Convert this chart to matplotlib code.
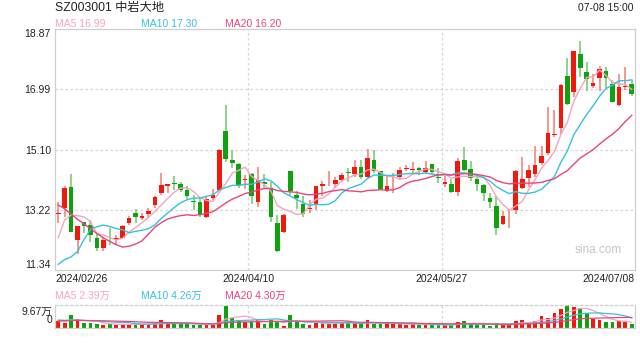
import numpy as np
import matplotlib.pyplot as plt

plt.rcParams['font.family'] = ['Liberation Sans', 'Noto Sans CJK SC', 'DejaVu Sans']

# daily candles 2024/02/26 -> 2024/07/08 (90 trading days)
opens = [13.10, 13.27, 13.93, 12.28, 12.83, 12.75, 12.33, 12.04, 12.35, 12.28,
         12.35, 12.82, 13.11, 12.96, 13.08, 13.37, 13.74, 13.97, 14.04, 14.02,
         13.84, 13.51, 13.45, 13.01, 13.60, 13.84, 15.67, 14.78, 14.65, 14.16,
         14.33, 13.48, 14.10, 13.90, 12.80, 12.52, 14.42, 13.69, 13.41, 13.24,
         13.40, 13.98, 14.17, 14.02, 14.16, 14.40, 14.34, 14.57, 14.26, 14.78,
         14.42, 13.82, 14.17, 14.24, 14.50, 14.48, 14.52, 14.39, 14.65, 14.24,
         14.02, 14.03, 13.79, 14.78, 14.50, 14.19, 14.00, 13.60, 13.34, 12.77,
         13.08, 13.22, 13.90, 14.21, 14.34, 14.68, 14.99, 15.56, 15.77, 17.41,
         16.89, 18.09, 17.52, 17.10, 17.33, 17.56, 17.15, 16.48, 17.05, 17.15]
highs = [13.46, 13.95, 14.33, 12.72, 12.85, 12.91, 12.49, 12.33, 12.65, 12.44,
         12.75, 13.04, 13.25, 13.11, 13.27, 13.66, 14.36, 14.02, 14.28, 14.10,
         13.95, 13.69, 13.58, 13.64, 13.87, 15.13, 16.50, 15.09, 14.68, 14.31,
         14.36, 14.57, 14.33, 14.10, 13.06, 13.08, 14.42, 13.81, 13.66, 13.53,
         13.97, 14.12, 14.44, 14.26, 14.36, 14.52, 14.78, 14.78, 15.13, 15.09,
         14.44, 14.26, 14.36, 14.57, 14.62, 14.71, 14.57, 14.75, 14.65, 14.52,
         14.28, 14.19, 14.85, 15.17, 14.75, 14.26, 14.02, 13.74, 13.64, 13.17,
         13.25, 14.46, 14.86, 14.62, 15.22, 15.20, 16.43, 16.34, 17.15, 17.96,
         18.19, 18.48, 17.83, 17.46, 17.70, 17.67, 17.28, 17.46, 17.67, 17.28]
lows = [12.80, 13.01, 12.52, 11.83, 12.49, 12.21, 11.92, 11.92, 12.12, 12.12,
        12.33, 12.75, 12.80, 12.91, 12.96, 13.29, 13.69, 13.74, 13.84, 13.79,
        13.55, 13.20, 13.01, 12.98, 13.53, 13.82, 14.71, 14.54, 13.90, 13.87,
        13.41, 13.32, 13.90, 12.85, 11.90, 12.49, 13.69, 13.24, 13.01, 13.11,
        13.22, 13.64, 13.95, 13.90, 14.10, 14.08, 14.26, 14.19, 14.23, 14.36,
        13.84, 13.79, 13.74, 14.16, 14.42, 14.36, 14.31, 14.33, 14.33, 14.05,
        13.92, 13.74, 13.64, 14.42, 14.12, 13.82, 13.50, 13.29, 12.44, 12.75,
        12.65, 13.08, 13.87, 13.93, 14.26, 14.62, 14.94, 15.48, 15.58, 16.50,
        16.73, 17.36, 16.92, 17.02, 16.92, 17.02, 16.58, 16.45, 16.97, 16.79]
closes = [13.12, 13.90, 12.54, 12.70, 12.72, 12.42, 12.02, 12.28, 12.33, 12.33,
          12.70, 12.98, 13.01, 13.04, 13.19, 13.63, 14.00, 14.02, 14.02, 13.84,
          13.64, 13.46, 13.06, 13.56, 13.69, 15.09, 14.81, 14.68, 14.00, 14.19,
          13.64, 14.16, 14.04, 13.01, 11.92, 13.06, 13.81, 13.58, 13.09, 13.29,
          13.97, 14.02, 14.19, 14.16, 14.31, 14.38, 14.55, 14.26, 14.83, 14.42,
          13.87, 13.97, 14.19, 14.47, 14.52, 14.49, 14.45, 14.54, 14.39, 14.23,
          14.10, 13.79, 14.75, 14.47, 14.21, 14.02, 13.76, 13.48, 12.65, 13.03,
          13.10, 14.44, 14.19, 14.47, 14.62, 14.91, 15.61, 15.59, 17.13, 16.53,
          18.17, 17.65, 17.31, 17.18, 17.62, 17.33, 16.60, 17.05, 17.08, 16.84]
# volume in 万手
volumes = [2.90, 2.13, 5.48, 3.67, 1.93, 2.13, 1.74, 1.42, 1.74, 1.22,
           1.42, 1.74, 1.61, 1.61, 1.74, 1.93, 3.29, 2.13, 1.93, 1.48,
           1.61, 1.42, 1.42, 1.42, 1.42, 5.48, 9.15, 4.19, 3.35, 2.71,
           2.71, 3.16, 1.74, 3.35, 2.58, 0.64, 5.29, 2.90, 1.74, 1.42,
           1.93, 1.93, 2.26, 2.13, 2.26, 2.13, 1.93, 1.61, 3.42, 1.74,
           1.74, 1.93, 1.74, 1.61, 1.42, 1.61, 1.42, 1.42, 1.29, 1.10,
           1.10, 1.29, 2.71, 2.90, 1.48, 1.42, 1.42, 0.84, 2.13, 1.48,
           1.10, 3.00, 3.20, 2.70, 3.00, 5.00, 4.00, 6.20, 8.00, 9.67,
           8.85, 8.45, 6.15, 3.65, 3.55, 2.35, 2.65, 2.85, 2.50, 1.60]

# the 19 sessions before the window, only needed so the MA lines start at the left edge
prev_closes = [16.2, 16.0, 15.8, 15.6, 15.4, 15.1, 14.9, 14.6, 14.4, 14.2,
               12.4, 11.7, 11.0, 9.0, 9.3, 11.15, 11.74, 12.8, 12.95]
prev_volumes = [2.6, 2.4, 2.8, 3.0, 2.5, 2.2, 2.7, 3.1, 2.9, 2.6,
                3.4, 3.8, 4.2, 3.6, 3.2, 3.0, 3.4, 3.1, 2.9]

date_labels = ['2024/02/26', '2024/04/10', '2024/05/27', '2024/07/08']
price_ticks = [11.34, 13.22, 15.10, 16.99, 18.87]
vol_top = 9.67
price_leg = ['MA5 16.99', 'MA10 17.30', 'MA20 16.20']
vol_leg = ['MA5 2.39万', 'MA10 4.26万', 'MA20 4.30万']


def moving_average(values, n, prior):
    full = np.concatenate([prior, values])
    ma = np.convolve(full, np.ones(n) / n, mode='valid')
    return ma[-len(values):]


o = np.array(opens); h = np.array(highs); l = np.array(lows); c = np.array(closes)
v = np.array(volumes)
x = np.arange(len(c))
up = c >= o

RED, GREEN = '#f0190c', '#0ea20e'
RED_W, GREEN_W = '#f47a72', '#6cc76c'
MA5_C, MA10_C, MA20_C = '#f8a3bf', '#36c2db', '#e8457a'
GRID_C = '#d4d4d4'
BORDER_C = '#cfcfcf'

fig = plt.figure(figsize=(6.4, 3.6), dpi=100)
ax = fig.add_axes([55 / 640, 1 - 270 / 360, 580 / 640, 241 / 360])
axv = fig.add_axes([55 / 640, 1 - 328 / 360, 580 / 640, 23 / 360])

# ---- price panel
ax.vlines(x, l, h, colors=np.where(up, RED_W, GREEN_W), lw=1.1, zorder=2)
body = np.maximum(np.abs(c - o), 0.025)
ax.bar(x, body, bottom=np.minimum(o, c), width=0.72,
       color=np.where(up, RED, GREEN), zorder=3, linewidth=0)

ma5 = moving_average(c, 5, prev_closes)
ma10 = moving_average(c, 10, prev_closes)
ma20 = moving_average(c, 20, prev_closes)
ax.plot(x, ma5, color=MA5_C, lw=1.0, zorder=4)
ax.plot(x, ma10, color=MA10_C, lw=1.0, zorder=4)
ax.plot(x, ma20, color=MA20_C, lw=1.0, zorder=4)

ax.set_xlim(-0.5, len(c) - 0.5)
ax.set_ylim(price_ticks[0], price_ticks[-1])
for p in price_ticks[1:-1]:
    ax.axhline(p, color=GRID_C, lw=0.9, ls=(0, (2, 2)), zorder=0)
for xv in (29.5, 59.5):
    ax.axvline(xv, color=GRID_C, lw=0.9, ls=(0, (2, 2)), zorder=0)

ax.set_yticks(price_ticks)
ax.set_yticklabels(['%.2f' % p for p in price_ticks], fontsize=7.5, color='#222')
ylab = ax.get_yticklabels()
ylab[0].set_va('bottom')
ylab[-1].set_va('top')
ax.set_xticks([-0.5, 29.5, 59.5, len(c) - 0.5])
ax.set_xticklabels(date_labels, fontsize=7.5, color='#222')
xlab = ax.get_xticklabels()
xlab[0].set_ha('left')
xlab[-1].set_ha('right')
ax.tick_params(length=0, pad=3)
for s in ax.spines.values():
    s.set_color(BORDER_C)
    s.set_linewidth(0.9)

ax.text(0.978, 0.085, 'sina.com', transform=ax.transAxes, ha='right', va='center',
        fontsize=8.5, color='#c4c4c4')

# ---- volume panel
axv.bar(x, v, width=0.6, color=np.where(up, RED, GREEN), linewidth=0, zorder=2)
axv.plot(x, moving_average(v, 5, prev_volumes), color=MA5_C, lw=0.9, zorder=3)
axv.plot(x, moving_average(v, 10, prev_volumes), color=MA10_C, lw=0.9, zorder=3)
axv.plot(x, moving_average(v, 20, prev_volumes), color=MA20_C, lw=0.9, zorder=3)
axv.set_xlim(-0.5, len(c) - 0.5)
axv.set_ylim(0, vol_top)
for xv in (29.5, 59.5):
    axv.axvline(xv, color=GRID_C, lw=0.9, ls=(0, (2, 2)), zorder=0)
axv.set_xticks([])
axv.set_yticks([])
for s in axv.spines.values():
    s.set_color(BORDER_C)
    s.set_linewidth(0.9)
axv.spines['top'].set_linestyle((0, (2, 2)))
axv.text(-0.005, 0.72, '%.2f万' % vol_top, transform=axv.transAxes, ha='right', va='center',
         fontsize=7.5, color='#222')
axv.text(-0.005, 0.35, '0', transform=axv.transAxes, ha='right', va='center',
         fontsize=7.5, color='#222')

# ---- header texts
fig.text(55 / 640, 1 - 8 / 360, 'SZ003001 中岩大地', ha='left', va='center', fontsize=8.8, color='#222')
fig.text(634 / 640, 1 - 8 / 360, '07-08 15:00', ha='right', va='center', fontsize=7.5, color='#222')

legend_x = [55, 141, 225]
for xx, t1, t2, col in zip(legend_x, price_leg, vol_leg, [MA5_C, MA10_C, MA20_C]):
    fig.text(xx / 640, 1 - 24 / 360, t1, ha='left', va='center', fontsize=7.5, color=col)
    fig.text(xx / 640, 1 - 296 / 360, t2, ha='left', va='center', fontsize=7.5, color=col)

fig.savefig('out.png', dpi=100)
